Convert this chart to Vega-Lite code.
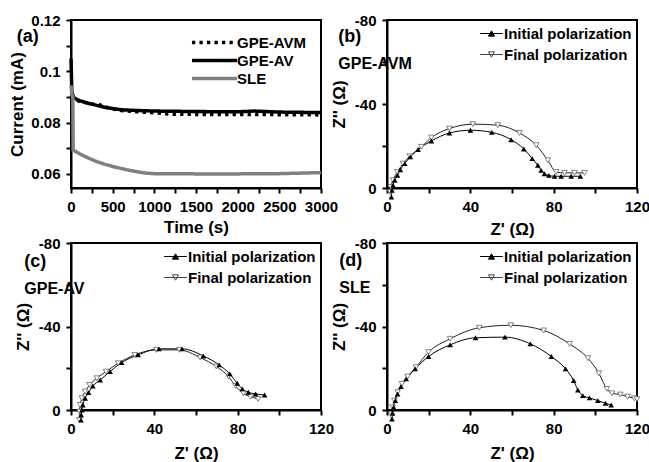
{
  "$schema": "https://vega.github.io/schema/vega-lite/v6.json",
  "background": "white",
  "padding": {"left": 7, "top": 12, "right": 0, "bottom": 0},
  "bounds": "flush",
  "columns": 2,
  "spacing": {"row": 55, "column": 66},
  "resolve": {
    "scale": {"color": "independent", "shape": "independent", "fill": "independent", "stroke": "independent", "strokeDash": "independent"},
    "legend": {"color": "independent", "shape": "independent", "fill": "independent", "stroke": "independent", "strokeDash": "independent"}
  },
  "config": {
    "font": "Liberation Sans",
    "view": {"stroke": "black", "strokeWidth": 2},
    "axis": {"grid": false, "domainColor": "black", "domainWidth": 2, "tickColor": "black", "tickWidth": 2, "tickSize": 5, "labelFontSize": 15, "labelFontWeight": "bold", "labelColor": "black", "labelPadding": 6, "titleFontSize": 17, "titleFontWeight": "bold", "titleColor": "black", "labelFlush": false, "labelOverlap": false},
    "legend": {"labelFontSize": 15, "labelFontWeight": "bold", "labelColor": "black", "title": null, "padding": 0},
    "title": {"anchor": "start", "fontSize": 18, "fontWeight": "bold", "color": "black", "subtitleFontSize": 16, "subtitleFontWeight": "bold", "subtitleColor": "black", "subtitlePadding": 10}
  },
  "datasets": {
    "a": [
      {"s": "GPE-AVM", "t": 0, "i": 0.0905},
      {"s": "GPE-AVM", "t": 50, "i": 0.089},
      {"s": "GPE-AVM", "t": 100, "i": 0.0883},
      {"s": "GPE-AVM", "t": 200, "i": 0.0876},
      {"s": "GPE-AVM", "t": 280, "i": 0.0871},
      {"s": "GPE-AVM", "t": 320, "i": 0.0873},
      {"s": "GPE-AVM", "t": 400, "i": 0.0862},
      {"s": "GPE-AVM", "t": 500, "i": 0.0853},
      {"s": "GPE-AVM", "t": 600, "i": 0.0847},
      {"s": "GPE-AVM", "t": 800, "i": 0.0842},
      {"s": "GPE-AVM", "t": 1000, "i": 0.0838},
      {"s": "GPE-AVM", "t": 1200, "i": 0.0833},
      {"s": "GPE-AVM", "t": 1500, "i": 0.0832},
      {"s": "GPE-AVM", "t": 2000, "i": 0.0832},
      {"s": "GPE-AVM", "t": 2500, "i": 0.0831},
      {"s": "GPE-AVM", "t": 3000, "i": 0.083},
      {"s": "GPE-AV", "t": 0, "i": 0.105},
      {"s": "GPE-AV", "t": 10, "i": 0.092},
      {"s": "GPE-AV", "t": 30, "i": 0.0898},
      {"s": "GPE-AV", "t": 100, "i": 0.0886},
      {"s": "GPE-AV", "t": 200, "i": 0.0876},
      {"s": "GPE-AV", "t": 300, "i": 0.0868},
      {"s": "GPE-AV", "t": 400, "i": 0.086},
      {"s": "GPE-AV", "t": 500, "i": 0.0855},
      {"s": "GPE-AV", "t": 600, "i": 0.085},
      {"s": "GPE-AV", "t": 800, "i": 0.0847},
      {"s": "GPE-AV", "t": 1000, "i": 0.0845},
      {"s": "GPE-AV", "t": 1500, "i": 0.0843},
      {"s": "GPE-AV", "t": 2000, "i": 0.0842},
      {"s": "GPE-AV", "t": 2200, "i": 0.0845},
      {"s": "GPE-AV", "t": 2500, "i": 0.0841},
      {"s": "GPE-AV", "t": 3000, "i": 0.0839},
      {"s": "SLE", "t": 0, "i": 0.0945},
      {"s": "SLE", "t": 10, "i": 0.091},
      {"s": "SLE", "t": 22, "i": 0.09},
      {"s": "SLE", "t": 26, "i": 0.0692},
      {"s": "SLE", "t": 50, "i": 0.0688},
      {"s": "SLE", "t": 100, "i": 0.0679},
      {"s": "SLE", "t": 200, "i": 0.0663},
      {"s": "SLE", "t": 300, "i": 0.0649},
      {"s": "SLE", "t": 400, "i": 0.0638},
      {"s": "SLE", "t": 500, "i": 0.0629},
      {"s": "SLE", "t": 600, "i": 0.0621},
      {"s": "SLE", "t": 700, "i": 0.0614},
      {"s": "SLE", "t": 800, "i": 0.0608},
      {"s": "SLE", "t": 900, "i": 0.0603},
      {"s": "SLE", "t": 1000, "i": 0.0601},
      {"s": "SLE", "t": 1500, "i": 0.06},
      {"s": "SLE", "t": 2000, "i": 0.06},
      {"s": "SLE", "t": 2500, "i": 0.0601},
      {"s": "SLE", "t": 3000, "i": 0.0605}
    ],
    "b": [
      {"s": "Initial polarization", "x": 2.1, "z": 4.3},
      {"s": "Initial polarization", "x": 2.4, "z": 1.1},
      {"s": "Initial polarization", "x": 2.9, "z": -1.3},
      {"s": "Initial polarization", "x": 3.7, "z": -3.7},
      {"s": "Initial polarization", "x": 5, "z": -6},
      {"s": "Initial polarization", "x": 6.4, "z": -8.7},
      {"s": "Initial polarization", "x": 8.5, "z": -11.6},
      {"s": "Initial polarization", "x": 11.2, "z": -14.8},
      {"s": "Initial polarization", "x": 14.9, "z": -18.3},
      {"s": "Initial polarization", "x": 21.3, "z": -22.4},
      {"s": "Initial polarization", "x": 30, "z": -26.2},
      {"s": "Initial polarization", "x": 40, "z": -27.5},
      {"s": "Initial polarization", "x": 50.3, "z": -26.5},
      {"s": "Initial polarization", "x": 59.6, "z": -23},
      {"s": "Initial polarization", "x": 65.7, "z": -18.6},
      {"s": "Initial polarization", "x": 69.7, "z": -14},
      {"s": "Initial polarization", "x": 72.4, "z": -10.8},
      {"s": "Initial polarization", "x": 74, "z": -8.4},
      {"s": "Initial polarization", "x": 75.6, "z": -6.8},
      {"s": "Initial polarization", "x": 77.7, "z": -6},
      {"s": "Initial polarization", "x": 80.4, "z": -5.6},
      {"s": "Initial polarization", "x": 83.6, "z": -5.6},
      {"s": "Initial polarization", "x": 88.4, "z": -5.6},
      {"s": "Initial polarization", "x": 92.8, "z": -5.6},
      {"s": "Final polarization", "x": 1.5, "z": 2},
      {"s": "Final polarization", "x": 1.8, "z": -0.5},
      {"s": "Final polarization", "x": 2.9, "z": -3.7},
      {"s": "Final polarization", "x": 5, "z": -7.6},
      {"s": "Final polarization", "x": 7.7, "z": -11.6},
      {"s": "Final polarization", "x": 10.9, "z": -15.1},
      {"s": "Final polarization", "x": 16.5, "z": -19.6},
      {"s": "Final polarization", "x": 21.3, "z": -24},
      {"s": "Final polarization", "x": 30, "z": -28.3},
      {"s": "Final polarization", "x": 41.2, "z": -30.4},
      {"s": "Final polarization", "x": 53.2, "z": -29.9},
      {"s": "Final polarization", "x": 63.6, "z": -26.2},
      {"s": "Final polarization", "x": 71.6, "z": -20.4},
      {"s": "Final polarization", "x": 77.2, "z": -13.2},
      {"s": "Final polarization", "x": 81.2, "z": -7.6},
      {"s": "Final polarization", "x": 85.2, "z": -7.2},
      {"s": "Final polarization", "x": 90, "z": -7.2},
      {"s": "Final polarization", "x": 94.8, "z": -7.2}
    ],
    "c": [
      {"s": "Initial polarization", "x": 4.8, "z": 4.8},
      {"s": "Initial polarization", "x": 4.9, "z": 2.4},
      {"s": "Initial polarization", "x": 5.2, "z": 0},
      {"s": "Initial polarization", "x": 5.7, "z": -2.4},
      {"s": "Initial polarization", "x": 6.8, "z": -5.6},
      {"s": "Initial polarization", "x": 8.4, "z": -8.3},
      {"s": "Initial polarization", "x": 10.5, "z": -11.5},
      {"s": "Initial polarization", "x": 14, "z": -14.4},
      {"s": "Initial polarization", "x": 18.7, "z": -18.4},
      {"s": "Initial polarization", "x": 24.3, "z": -22.7},
      {"s": "Initial polarization", "x": 32.2, "z": -26.4},
      {"s": "Initial polarization", "x": 42.2, "z": -29.3},
      {"s": "Initial polarization", "x": 53.3, "z": -29.3},
      {"s": "Initial polarization", "x": 63.5, "z": -25.9},
      {"s": "Initial polarization", "x": 71.1, "z": -21.6},
      {"s": "Initial polarization", "x": 76.2, "z": -17.3},
      {"s": "Initial polarization", "x": 79.8, "z": -12.8},
      {"s": "Initial polarization", "x": 82.2, "z": -10.1},
      {"s": "Initial polarization", "x": 85.1, "z": -8.5},
      {"s": "Initial polarization", "x": 88.6, "z": -7.7},
      {"s": "Initial polarization", "x": 92.9, "z": -7.2},
      {"s": "Final polarization", "x": 4, "z": 4.8},
      {"s": "Final polarization", "x": 4.1, "z": 0.8},
      {"s": "Final polarization", "x": 4.4, "z": -2.4},
      {"s": "Final polarization", "x": 5.2, "z": -5.6},
      {"s": "Final polarization", "x": 6.8, "z": -8.8},
      {"s": "Final polarization", "x": 8.9, "z": -12},
      {"s": "Final polarization", "x": 12.4, "z": -15.2},
      {"s": "Final polarization", "x": 16.8, "z": -18.4},
      {"s": "Final polarization", "x": 22.7, "z": -22.4},
      {"s": "Final polarization", "x": 30.6, "z": -26.4},
      {"s": "Final polarization", "x": 41, "z": -28.8},
      {"s": "Final polarization", "x": 52, "z": -28.8},
      {"s": "Final polarization", "x": 62, "z": -25.1},
      {"s": "Final polarization", "x": 69.8, "z": -20.8},
      {"s": "Final polarization", "x": 75.6, "z": -16},
      {"s": "Final polarization", "x": 79, "z": -11.5},
      {"s": "Final polarization", "x": 82.7, "z": -8},
      {"s": "Final polarization", "x": 86.2, "z": -6.4},
      {"s": "Final polarization", "x": 89.8, "z": -5.3}
    ],
    "d": [
      {"s": "Initial polarization", "x": 2.4, "z": 4.3},
      {"s": "Initial polarization", "x": 2.7, "z": 1.6},
      {"s": "Initial polarization", "x": 3.2, "z": -1.3},
      {"s": "Initial polarization", "x": 4, "z": -4.5},
      {"s": "Initial polarization", "x": 5.1, "z": -7.7},
      {"s": "Initial polarization", "x": 6.7, "z": -11.2},
      {"s": "Initial polarization", "x": 9.2, "z": -14.9},
      {"s": "Initial polarization", "x": 13.5, "z": -19.7},
      {"s": "Initial polarization", "x": 19.9, "z": -25.6},
      {"s": "Initial polarization", "x": 30.3, "z": -31.2},
      {"s": "Initial polarization", "x": 42.5, "z": -34.6},
      {"s": "Initial polarization", "x": 56.6, "z": -34.9},
      {"s": "Initial polarization", "x": 68.8, "z": -31.7},
      {"s": "Initial polarization", "x": 78.9, "z": -25.6},
      {"s": "Initial polarization", "x": 85.7, "z": -19.7},
      {"s": "Initial polarization", "x": 89.6, "z": -14.1},
      {"s": "Initial polarization", "x": 91.6, "z": -9.6},
      {"s": "Initial polarization", "x": 94, "z": -6.9},
      {"s": "Initial polarization", "x": 97.2, "z": -5.8},
      {"s": "Initial polarization", "x": 101.2, "z": -4.5},
      {"s": "Initial polarization", "x": 104.9, "z": -3.2},
      {"s": "Initial polarization", "x": 107.6, "z": -2.4},
      {"s": "Final polarization", "x": 2.1, "z": 2.7},
      {"s": "Final polarization", "x": 2.7, "z": -1.3},
      {"s": "Final polarization", "x": 3.5, "z": -4.5},
      {"s": "Final polarization", "x": 5.1, "z": -8.5},
      {"s": "Final polarization", "x": 7.2, "z": -12.5},
      {"s": "Final polarization", "x": 9.9, "z": -16},
      {"s": "Final polarization", "x": 13.9, "z": -20.5},
      {"s": "Final polarization", "x": 19.9, "z": -27.7},
      {"s": "Final polarization", "x": 30.3, "z": -34.1},
      {"s": "Final polarization", "x": 44.3, "z": -39.4},
      {"s": "Final polarization", "x": 59.4, "z": -40.6},
      {"s": "Final polarization", "x": 75.2, "z": -38.1},
      {"s": "Final polarization", "x": 87.6, "z": -31.7},
      {"s": "Final polarization", "x": 96.4, "z": -24.8},
      {"s": "Final polarization", "x": 101.7, "z": -17.6},
      {"s": "Final polarization", "x": 105.5, "z": -10.1},
      {"s": "Final polarization", "x": 108, "z": -8},
      {"s": "Final polarization", "x": 112, "z": -7.4},
      {"s": "Final polarization", "x": 115.5, "z": -6.4},
      {"s": "Final polarization", "x": 118.7, "z": -5.6},
      {"s": "Final polarization", "x": 120, "z": -5.2}
    ]
  },
  "concat": [
    {
      "width": 250, "height": 168,
      "title": {"text": "(a)", "dx": 8, "offset": -33},
      "data": {"name": "a"},
      "mark": {"type": "line", "strokeWidth": 3.5, "strokeCap": "butt"},
      "encoding": {
        "x": {"field": "t", "type": "quantitative", "title": "Time (s)", "scale": {"domain": [0, 3000], "nice": false},
          "axis": {"titlePadding": 5, "values": [0, 250, 500, 750, 1000, 1250, 1500, 1750, 2000, 2250, 2500, 2750, 3000], "labelExpr": "datum.value % 500 == 0 ? '' + datum.value : ''"}},
        "y": {"field": "i", "type": "quantitative", "title": "Current (mA)", "scale": {"domain": [0.0545, 0.12], "nice": false, "zero": false},
          "axis": {"values": [0.06, 0.07, 0.08, 0.09, 0.1, 0.11, 0.12], "labelExpr": "round(datum.value * 100) % 2 == 0 ? format(datum.value, '.2~f') : ''"}},
        "color": {"field": "s", "type": "nominal", "scale": {"domain": ["GPE-AVM", "GPE-AV", "SLE"], "range": ["black", "black", "#808080"]},
          "legend": {"orient": "top-right", "offset": 15, "symbolType": "M-4,0H4", "symbolSize": 127, "symbolOffset": 17, "labelOffset": 15, "symbolStrokeWidth": 3.5, "rowPadding": 2}},
        "strokeDash": {"field": "s", "type": "nominal", "scale": {"domain": ["GPE-AVM", "GPE-AV", "SLE"], "range": [[3.3, 4.2], [1, 0], [1, 0]]}}
      }
    },
    {
      "width": 250, "height": 168,
      "title": {"text": "(b)", "subtitle": "GPE-AVM", "dx": 8, "offset": -59},
      "data": {"name": "b"},
      "encoding": {
        "x": {"field": "x", "type": "quantitative", "title": "Z' (Ω)", "scale": {"domain": [0, 120], "nice": false},
          "axis": {"titlePadding": 7, "values": [0, 20, 40, 60, 80, 100, 120], "labelExpr": "datum.value % 40 == 0 ? '' + datum.value : ''"}},
        "y": {"field": "z", "type": "quantitative", "title": "Z'' (Ω)", "scale": {"domain": [0, -80], "nice": false, "zero": false},
          "axis": {"titlePadding": 6, "values": [-80, -60, -40, -20, 0], "labelExpr": "datum.value % 40 == 0 ? (datum.value < 0 ? '-' + abs(datum.value) : '0') : ''"}}
      },
      "layer": [
        {"transform": [{"filter": "datum.s == 'Final polarization'"}], "mark": {"type": "line", "interpolate": "monotone", "stroke": "#222", "strokeWidth": 1, "clip": false}},
        {"transform": [{"filter": "datum.s == 'Initial polarization'"}], "mark": {"type": "line", "interpolate": "monotone", "stroke": "black", "strokeWidth": 1, "clip": false}},
        {"transform": [{"filter": "datum.s == 'Final polarization'"}], "mark": {"type": "point", "shape": "triangle-down", "size": 32, "fill": "white", "fillOpacity": 1, "stroke": "#666", "strokeWidth": 0.8}},
        {"transform": [{"filter": "datum.s == 'Initial polarization'"}], "mark": {"type": "point", "shape": "triangle-up", "size": 32, "fill": "black", "filled": true, "opacity": 1}},
        {"data": {"values": []}, "mark": {"type": "point", "strokeWidth": 1, "opacity": 1},
          "encoding": {
            "shape": {"field": "s", "type": "nominal", "scale": {"domain": ["Initial polarization", "Final polarization"], "range": ["M-1.5,0H1.5M-0.4,0.35L0,-0.35L0.4,0.35Z", "M-1.5,0H1.5M-0.4,-0.35L0,0.35L0.4,-0.35Z"]},
              "legend": {"orient": "top-right", "offset": 5, "symbolSize": 230, "symbolStrokeWidth": 1, "rowPadding": 4}},
            "fill": {"field": "s", "type": "nominal", "scale": {"domain": ["Initial polarization", "Final polarization"], "range": ["black", "white"]}},
            "stroke": {"field": "s", "type": "nominal", "scale": {"domain": ["Initial polarization", "Final polarization"], "range": ["black", "#444"]}}
          }}
      ]
    },
    {
      "width": 250, "height": 167,
      "title": {"text": "(c)", "subtitle": "GPE-AV", "dx": 10, "offset": -61},
      "data": {"name": "c"},
      "encoding": {
        "x": {"field": "x", "type": "quantitative", "title": "Z' (Ω)", "scale": {"domain": [0, 120], "nice": false},
          "axis": {"titlePadding": 9, "values": [0, 20, 40, 60, 80, 100, 120], "labelExpr": "datum.value % 40 == 0 ? '' + datum.value : ''"}},
        "y": {"field": "z", "type": "quantitative", "title": "Z'' (Ω)", "scale": {"domain": [0, -80], "nice": false, "zero": false},
          "axis": {"titlePadding": 6, "values": [-80, -60, -40, -20, 0], "labelExpr": "datum.value % 40 == 0 ? (datum.value < 0 ? '-' + abs(datum.value) : '0') : ''"}}
      },
      "layer": [
        {"transform": [{"filter": "datum.s == 'Final polarization'"}], "mark": {"type": "line", "interpolate": "monotone", "stroke": "#222", "strokeWidth": 1, "clip": false}},
        {"transform": [{"filter": "datum.s == 'Initial polarization'"}], "mark": {"type": "line", "interpolate": "monotone", "stroke": "black", "strokeWidth": 1, "clip": false}},
        {"transform": [{"filter": "datum.s == 'Final polarization'"}], "mark": {"type": "point", "shape": "triangle-down", "size": 32, "fill": "white", "fillOpacity": 1, "stroke": "#666", "strokeWidth": 0.8}},
        {"transform": [{"filter": "datum.s == 'Initial polarization'"}], "mark": {"type": "point", "shape": "triangle-up", "size": 32, "fill": "black", "filled": true, "opacity": 1}},
        {"data": {"values": []}, "mark": {"type": "point", "strokeWidth": 1, "opacity": 1},
          "encoding": {
            "shape": {"field": "s", "type": "nominal", "scale": {"domain": ["Initial polarization", "Final polarization"], "range": ["M-1.5,0H1.5M-0.4,0.35L0,-0.35L0.4,0.35Z", "M-1.5,0H1.5M-0.4,-0.35L0,0.35L0.4,-0.35Z"]},
              "legend": {"orient": "top-right", "offset": 5, "symbolSize": 230, "symbolStrokeWidth": 1, "rowPadding": 4}},
            "fill": {"field": "s", "type": "nominal", "scale": {"domain": ["Initial polarization", "Final polarization"], "range": ["black", "white"]}},
            "stroke": {"field": "s", "type": "nominal", "scale": {"domain": ["Initial polarization", "Final polarization"], "range": ["black", "#444"]}}
          }}
      ]
    },
    {
      "width": 250, "height": 167,
      "title": {"text": "(d)", "subtitle": "SLE", "dx": 9, "offset": -60},
      "data": {"name": "d"},
      "encoding": {
        "x": {"field": "x", "type": "quantitative", "title": "Z' (Ω)", "scale": {"domain": [0, 120], "nice": false},
          "axis": {"titlePadding": 9, "values": [0, 20, 40, 60, 80, 100, 120], "labelExpr": "datum.value % 40 == 0 ? '' + datum.value : ''"}},
        "y": {"field": "z", "type": "quantitative", "title": "Z'' (Ω)", "scale": {"domain": [0, -80], "nice": false, "zero": false},
          "axis": {"titlePadding": 6, "values": [-80, -60, -40, -20, 0], "labelExpr": "datum.value % 40 == 0 ? (datum.value < 0 ? '-' + abs(datum.value) : '0') : ''"}}
      },
      "layer": [
        {"transform": [{"filter": "datum.s == 'Final polarization'"}], "mark": {"type": "line", "interpolate": "monotone", "stroke": "#222", "strokeWidth": 1, "clip": false}},
        {"transform": [{"filter": "datum.s == 'Initial polarization'"}], "mark": {"type": "line", "interpolate": "monotone", "stroke": "black", "strokeWidth": 1, "clip": false}},
        {"transform": [{"filter": "datum.s == 'Final polarization'"}], "mark": {"type": "point", "shape": "triangle-down", "size": 32, "fill": "white", "fillOpacity": 1, "stroke": "#666", "strokeWidth": 0.8}},
        {"transform": [{"filter": "datum.s == 'Initial polarization'"}], "mark": {"type": "point", "shape": "triangle-up", "size": 32, "fill": "black", "filled": true, "opacity": 1}},
        {"data": {"values": []}, "mark": {"type": "point", "strokeWidth": 1, "opacity": 1},
          "encoding": {
            "shape": {"field": "s", "type": "nominal", "scale": {"domain": ["Initial polarization", "Final polarization"], "range": ["M-1.5,0H1.5M-0.4,0.35L0,-0.35L0.4,0.35Z", "M-1.5,0H1.5M-0.4,-0.35L0,0.35L0.4,-0.35Z"]},
              "legend": {"orient": "top-right", "offset": 5, "symbolSize": 230, "symbolStrokeWidth": 1, "rowPadding": 4}},
            "fill": {"field": "s", "type": "nominal", "scale": {"domain": ["Initial polarization", "Final polarization"], "range": ["black", "white"]}},
            "stroke": {"field": "s", "type": "nominal", "scale": {"domain": ["Initial polarization", "Final polarization"], "range": ["black", "#444"]}}
          }}
      ]
    }
  ]
}
